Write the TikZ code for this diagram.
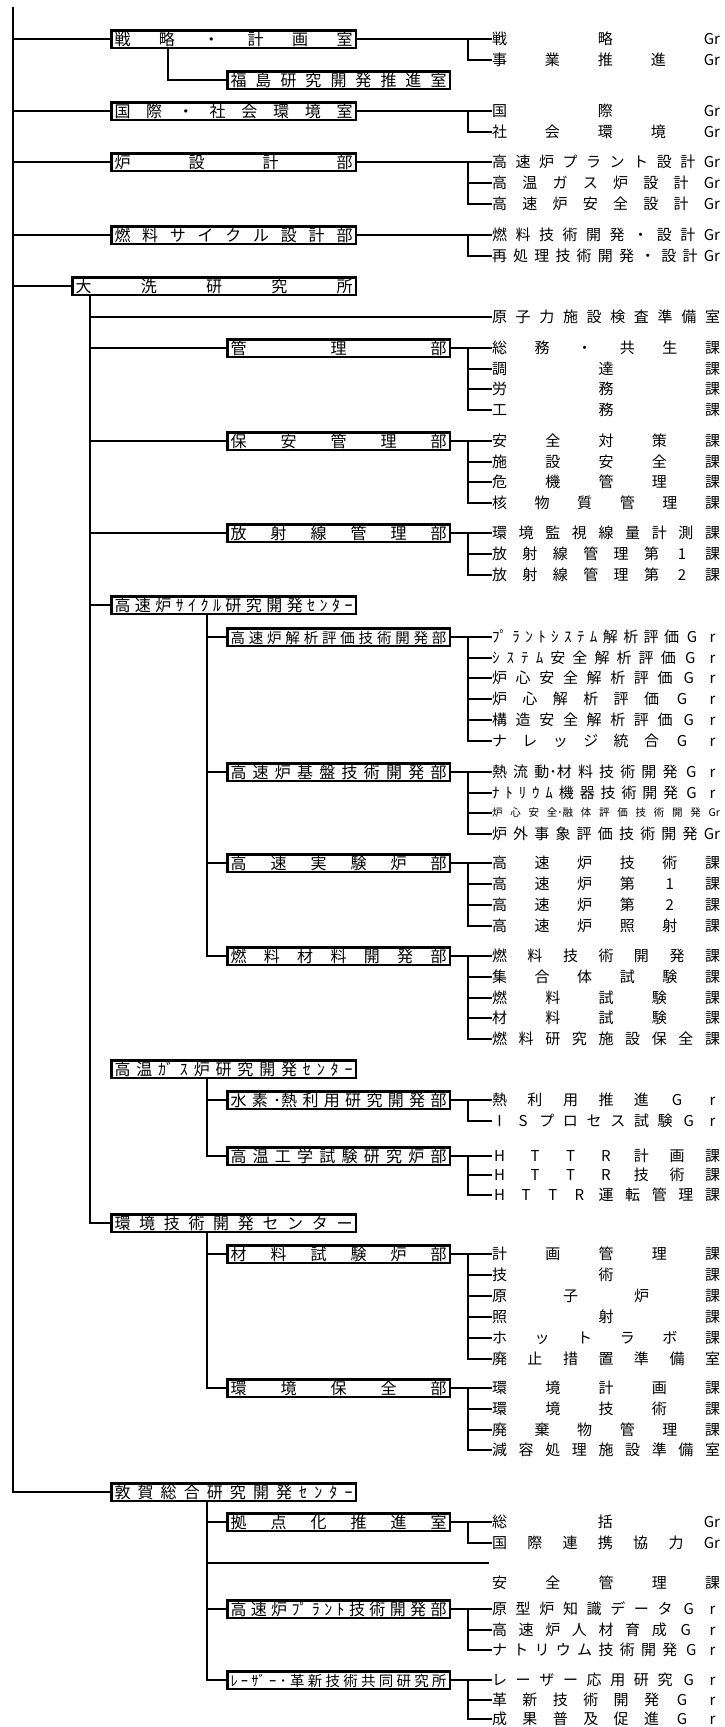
\documentclass[tikz,border=0pt]{standalone}
\usepackage{fontspec}
\newfontfamily\jp{Noto Sans CJK JP}
\makeatletter
\newcommand\sprd[2]{\makebox[#1][s]{\let\sp@first\relax\@tfor\sp@t:=#2\do{\ifx\sp@first\relax\let\sp@first\@empty\else\hfill\fi\sp@t}}}
\makeatother
\newcommand\fw[1]{\makebox[1em]{#1}}
\newcommand\orgR{\jp\fontsize{15}{15}\selectfont}
\newcommand\orgRs{\jp\fontsize{10.5}{10.5}\selectfont}
\newcommand\orgB{\jp\fontsize{16}{16}\selectfont}
\newcommand\orgBs{\jp\fontsize{14.5}{14.5}\selectfont}
\tikzset{
  ln/.style={line width=2pt},
  bxn/.style={draw, line width=2.5pt, rectangle, inner sep=0pt, outer sep=0pt, anchor=west,
    minimum height=17.5pt, font=\orgB, text height=13.3pt, text depth=1.1pt},
  bxA/.style={bxn, minimum width=244.5pt},
  bxC/.style={bxn, minimum width=222.5pt},
  bxO/.style={bxn, minimum width=283.5pt},
  lbl/.style={anchor=west, inner sep=0pt, outer sep=0pt, font=\orgR, text height=12.45pt, text depth=1.05pt},
  lbls/.style={lbl, font=\orgRs, text height=8.7pt, text depth=0.75pt},
}
\newcommand\kid[3]{\node[lbl] (#1) at (492,#2) {\sprd{228pt}{#3}};}
\newcommand\brk[3]{\draw[ln] (#1.east) -- (#2.west); \draw[ln] (468,0 |- #2.west) |- (#3.west);}
\newcommand\kidstub[1]{\draw[ln] (468,0 |- #1.west) -- (#1.west);}
\begin{document}
\begin{tikzpicture}[x=1pt,y=-1pt]
\useasboundingbox (0,0) rectangle (724,1727);
\fill[white] (0,0) rectangle (724,1727);

% ---- boxes
\node[bxA] (senryaku) at (111.25,39) {\sprd{238pt}{戦略・計画室}};
\node[bxC] (fukushima) at (227.25,80) {\sprd{216pt}{福島研究開発推進室}};
\node[bxA] (kokusai) at (111.25,111) {\sprd{238pt}{国際・社会環境室}};
\node[bxA] (rosekkei) at (111.25,162) {\sprd{238pt}{炉設計部}};
\node[bxA] (nenryo) at (111.25,235) {\sprd{238pt}{燃料サイクル設計部}};
\node[bxO] (ooarai) at (72.25,286) {\sprd{277pt}{大洗研究所}};
\node[bxC] (kanri) at (227.25,348) {\sprd{216pt}{管理部}};
\node[bxC] (hoan) at (227.25,441) {\sprd{216pt}{保安管理部}};
\node[bxC] (hosha) at (227.25,533) {\sprd{216pt}{放射線管理部}};
\node[bxA] (fbr) at (111.25,605) {\sprd{238pt}{高速炉ｻｲｸﾙ研究開発ｾﾝﾀｰ}};
\node[bxC,font=\orgBs] (kaiseki) at (227.25,637) {\sprd{216pt}{高速炉解析評価技術開発部}};
\node[bxC] (kiban) at (227.25,772) {\sprd{216pt}{高速炉基盤技術開発部}};
\node[bxC] (jikken) at (227.25,863) {\sprd{216pt}{高速実験炉部}};
\node[bxC] (nenzai) at (227.25,956) {\sprd{216pt}{燃料材料開発部}};
\node[bxA] (htgr) at (111.25,1069) {\sprd{238pt}{高温{ｶﾞ}ｽ炉研究開発ｾﾝﾀｰ}};
\node[bxC] (suiso) at (227.25,1100) {\sprd{216pt}{水素{･熱}利用研究開発部}};
\node[bxC] (koon) at (227.25,1156) {\sprd{216pt}{高温工学試験研究炉部}};
\node[bxA] (kankyo) at (111.25,1223) {\sprd{238pt}{環境技術開発センター}};
\node[bxC] (zairyo) at (227.25,1254) {\sprd{216pt}{材料試験炉部}};
\node[bxC] (hozen) at (227.25,1388) {\sprd{216pt}{環境保全部}};
\node[bxA] (tsuruga) at (111.25,1492) {\sprd{238pt}{敦賀総合研究開発ｾﾝﾀｰ}};
\node[bxC] (kyoten) at (227.25,1522) {\sprd{216pt}{拠点化推進室}};
\node[bxC] (plant) at (227.25,1609) {\sprd{216pt}{高速炉{ﾌﾟ}ﾗﾝﾄ技術開発部}};
\node[bxC,font=\orgBs] (laser) at (227.25,1680) {\sprd{216pt}{ﾚｰ{ｻﾞ}ｰ･革新技術共同研究所}};

% ---- right-hand labels
\kid{s1}{39}{戦略{Gr}} \kid{s2}{60}{事業推進{Gr}}
\kid{c1}{111}{国際{Gr}} \kid{c2}{132}{社会環境{Gr}}
\kid{r1}{162}{高速炉プラント設計{Gr}} \kid{r2}{183}{高温ガス炉設計{Gr}} \kid{r3}{204}{高速炉安全設計{Gr}}
\kid{n1}{235}{燃料技術開発・設計{Gr}} \kid{n2}{256}{再処理技術開発・設計{Gr}}
\kid{gen}{317}{原子力施設検査準備室}
\kid{k1}{348}{総務・共生課} \kid{k2}{369}{調達課} \kid{k3}{389}{労務課} \kid{k4}{410}{工務課}
\kid{h1}{441}{安全対策課} \kid{h2}{462}{施設安全課} \kid{h3}{482}{危機管理課} \kid{h4}{503}{核物質管理課}
\kid{m1}{533}{環境監視線量計測課} \kid{m2}{554}{放射線管理第{\fw{1}}課} \kid{m3}{575}{放射線管理第{\fw{2}}課}
\kid{a1}{637}{{ﾌﾟ}ﾗﾝﾄｼｽﾃﾑ解析評価{\fw{G}}{\fw{r}}}
\kid{a2}{658}{ｼｽﾃﾑ安全解析評価{\fw{G}}{\fw{r}}}
\kid{a3}{678}{炉心安全解析評価{\fw{G}}{\fw{r}}}
\kid{a4}{699}{炉心解析評価{\fw{G}}{\fw{r}}}
\kid{a5}{720}{構造安全解析評価{\fw{G}}{\fw{r}}}
\kid{a6}{741}{ナレッジ統合{\fw{G}}{\fw{r}}}
\kid{b1}{772}{熱流{動･材}料技術開発{\fw{G}}{\fw{r}}}
\kid{b2}{793}{ﾅﾄﾘｳﾑ機器技術開発{\fw{G}}{\fw{r}}}
\node[lbls] (b3) at (492,813) {\sprd{228pt}{炉心安{全･融}体評価技術開発{Gr}}};
\kid{b4}{834}{炉外事象評価技術開発{Gr}}
\kid{j1}{863}{高速炉技術課} \kid{j2}{884}{高速炉第{\fw{1}}課} \kid{j3}{905}{高速炉第{\fw{2}}課} \kid{j4}{926}{高速炉照射課}
\kid{f1}{956}{燃料技術開発課} \kid{f2}{977}{集合体試験課} \kid{f3}{998}{燃料試験課} \kid{f4}{1018}{材料試験課} \kid{f5}{1039}{燃料研究施設保全課}
\kid{u1}{1100}{熱利用推進{\fw{G}}{\fw{r}}} \kid{u2}{1121}{{\fw{I}}{\fw{S}}プロセス試験{\fw{G}}{\fw{r}}}
\kid{t1}{1156}{{\fw{H}}{\fw{T}}{\fw{T}}{\fw{R}}計画課} \kid{t2}{1175}{{\fw{H}}{\fw{T}}{\fw{T}}{\fw{R}}技術課} \kid{t3}{1195}{{\fw{H}}{\fw{T}}{\fw{T}}{\fw{R}}運転管理課}
\kid{z1}{1254}{計画管理課} \kid{z2}{1275}{技術課} \kid{z3}{1296}{原子炉課} \kid{z4}{1317}{照射課} \kid{z5}{1338}{ホットラボ課} \kid{z6}{1359}{廃止措置準備室}
\kid{e1}{1388}{環境計画課} \kid{e2}{1409}{環境技術課} \kid{e3}{1430}{廃棄物管理課} \kid{e4}{1450}{減容処理施設準備室}
\kid{y1}{1522}{総括{Gr}} \kid{y2}{1543}{国際連携協力{Gr}}
\kid{anzen}{1583}{安全管理課}
\kid{p1}{1609}{原型炉知識データ{\fw{G}}{\fw{r}}} \kid{p2}{1630}{高速炉人材育成{\fw{G}}{\fw{r}}} \kid{p3}{1650}{ナトリウム技術開発{\fw{G}}{\fw{r}}}
\kid{l1}{1680}{レーザー応用研究{\fw{G}}{\fw{r}}} \kid{l2}{1700}{革新技術開発{\fw{G}}{\fw{r}}} \kid{l3}{1719}{成果普及促進{\fw{G}}{\fw{r}}}

% ---- main trunk
\coordinate (top) at (13,7);
\draw[ln] (top) |- (tsuruga.west);
\foreach \n in {senryaku,kokusai,rosekkei,nenryo,ooarai}
  \draw[ln] (13,0 |- \n.west) -- (\n.west);
\draw[ln] (168,0 |- senryaku.south) |- (fukushima.west);

% ---- Oarai trunk
\draw[ln] (90,0 |- ooarai.south) |- (kankyo.west);
\foreach \n in {gen,kanri,hoan,hosha,fbr}
  \draw[ln] (90,0 |- \n.west) -- (\n.west);

% ---- centre sub-trunks
\draw[ln] (207,0 |- fbr.south) |- (nenzai.west);
\foreach \n in {kaiseki,kiban,jikken}
  \draw[ln] (207,0 |- \n.west) -- (\n.west);
\draw[ln] (207,0 |- htgr.south) |- (koon.west);
\draw[ln] (207,0 |- suiso.west) -- (suiso.west);
\draw[ln] (207,0 |- kankyo.south) |- (hozen.west);
\draw[ln] (207,0 |- zairyo.west) -- (zairyo.west);
\draw[ln] (207,0 |- tsuruga.south) |- (laser.west);
\coordinate (anzenend) at (489,1563);
\foreach \n in {kyoten,plant}
  \draw[ln] (207,0 |- \n.west) -- (\n.west);
\draw[ln] (207,0 |- anzenend) -- (anzenend);

% ---- right brackets
\brk{senryaku}{s1}{s2}
\brk{kokusai}{c1}{c2}
\brk{rosekkei}{r1}{r3} \kidstub{r2}
\brk{nenryo}{n1}{n2}
\brk{kanri}{k1}{k4} \kidstub{k2} \kidstub{k3}
\brk{hoan}{h1}{h4} \kidstub{h2} \kidstub{h3}
\brk{hosha}{m1}{m3} \kidstub{m2}
\brk{kaiseki}{a1}{a6} \kidstub{a2} \kidstub{a3} \kidstub{a4} \kidstub{a5}
\brk{kiban}{b1}{b4} \kidstub{b2} \kidstub{b3}
\brk{jikken}{j1}{j4} \kidstub{j2} \kidstub{j3}
\brk{nenzai}{f1}{f5} \kidstub{f2} \kidstub{f3} \kidstub{f4}
\brk{suiso}{u1}{u2}
\brk{koon}{t1}{t3} \kidstub{t2}
\brk{zairyo}{z1}{z6} \kidstub{z2} \kidstub{z3} \kidstub{z4} \kidstub{z5}
\brk{hozen}{e1}{e4} \kidstub{e2} \kidstub{e3}
\brk{kyoten}{y1}{y2}
\brk{plant}{p1}{p3} \kidstub{p2}
\brk{laser}{l1}{l3} \kidstub{l2}
\end{tikzpicture}
\end{document}
